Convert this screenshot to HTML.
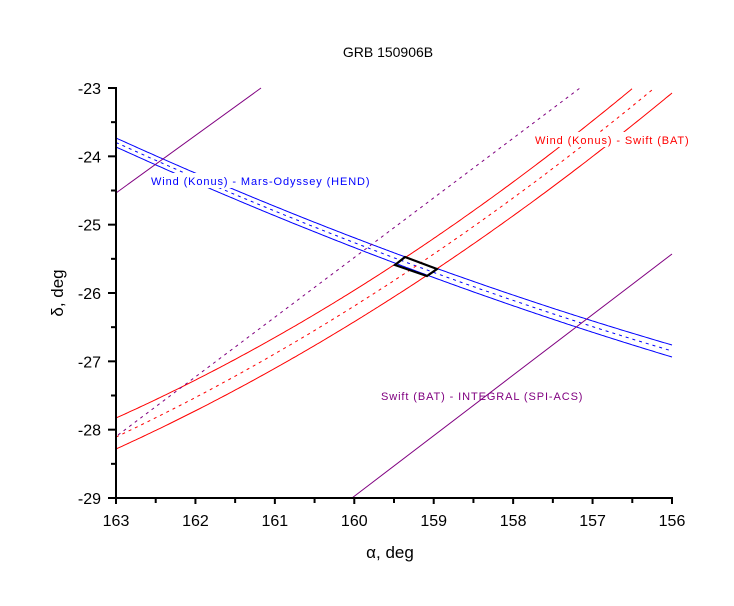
<!DOCTYPE html>
<html><head><style>body{margin:0;background:#fff}svg{display:block}text{font-family:"Liberation Sans",sans-serif}</style></head>
<body>
<svg id="s" width="734" height="606" xmlns="http://www.w3.org/2000/svg">
<text x="388" y="57" font-size="14" text-anchor="middle">GRB 150906B</text>
<g id="curves" fill="none" stroke-width="1"></g>
<polygon points="405,257 395,265 427,276 437,269" fill="none" stroke="#000" stroke-width="2.2"/>
<rect x="149" y="173" width="247" height="15" fill="#fff"/>
<text x="151" y="185" font-size="11" fill="#0000ff" letter-spacing="0.9">Wind (Konus) - Mars-Odyssey (HEND)</text>
<rect x="533" y="132" width="160" height="15" fill="#fff"/>
<text x="535" y="144" font-size="11" fill="#ff0000" letter-spacing="0.9">Wind (Konus) - Swift (BAT)</text>
<text x="381" y="400" font-size="11" fill="#800080" letter-spacing="0.9">Swift (BAT) - INTEGRAL (SPI-ACS)</text>
<g stroke="#000" stroke-width="2" id="axes">
<line x1="116" y1="87" x2="116" y2="499"/>
<line x1="115" y1="498" x2="673" y2="498"/>
</g>
<g id="ticks" stroke="#000" stroke-width="2"></g>
<g id="lbl" font-size="16"></g>
<text x="390" y="558" font-size="17" text-anchor="middle">α, deg</text>
<text transform="translate(63,293) rotate(-90)" font-size="17" text-anchor="middle">δ, deg</text>
</svg>
<script>
var NS="http://www.w3.org/2000/svg";
function el(p,t,a,txt){var e=document.createElementNS(NS,t);for(var k in a)e.setAttribute(k,a[k]);if(txt)e.textContent=txt;p.appendChild(e);return e;}
function quad(P,x0,x1){var pts=[];for(var x=x0;x<=x1+0.01;x+=2){var y=0;for(var i=0;i<3;i++){var l=1;for(var j=0;j<3;j++)if(j!=i)l*=(x-P[j][0])/(P[i][0]-P[j][0]);y+=l*P[i][1];}pts.push(x.toFixed(1)+","+y.toFixed(1));}return pts.join(" ");}
var g=document.getElementById("curves");
function c(P,col,dash){var a={points:quad(P,P[0][0],P[2][0]),stroke:col};if(dash)a["stroke-dasharray"]="3,4";el(g,"polyline",a);}
c([[116,138],[400,255],[672,345]],"#0000ff");
c([[116,147],[400,265],[672,357]],"#0000ff");
c([[116,142.5],[400,260],[672,351]],"#0000ff",1);
c([[116,418],[400,261],[633,88]],"#ff0000");
c([[116,449],[432,272],[672,93]],"#ff0000");
c([[116,437],[416,266],[652,90]],"#ff0000",1);
el(g,"line",{x1:116,y1:193,x2:261,y2:88,stroke:"#800080"});
el(g,"line",{x1:352,y1:498,x2:672,y2:254,stroke:"#800080"});
el(g,"line",{x1:118,y1:435,x2:580,y2:88,stroke:"#800080","stroke-dasharray":"3,4"});
var t=document.getElementById("ticks"),L=document.getElementById("lbl");
for(var i=0;i<=12;i++){var y=88+i*410/12,len=i%2?5:8;el(t,"line",{x1:116-len,y1:y,x2:116,y2:y});if(i%2==0)el(L,"text",{x:101,y:y+6,"text-anchor":"end"},String(-23-i/2));}
for(var i=0;i<=14;i++){var x=116+i*556/14,len=i%2?5:6;el(t,"line",{x1:x,y1:498,x2:x,y2:498+len});if(i%2==0)el(L,"text",{x:x,y:526,"text-anchor":"middle"},String(163-i/2));}
</script>
</body></html>
